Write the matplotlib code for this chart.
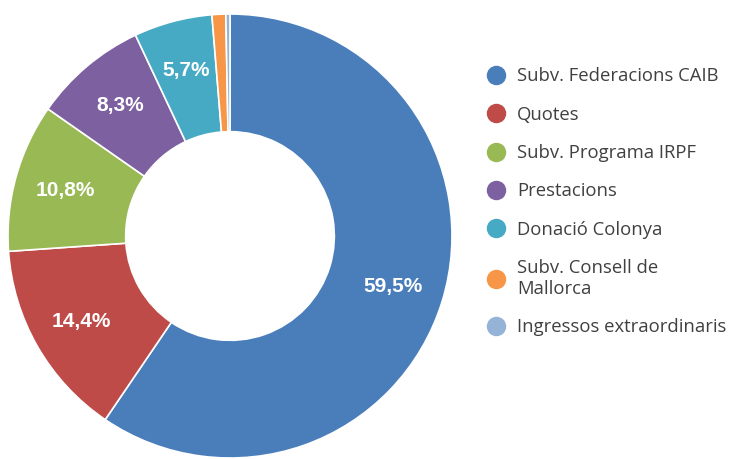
import matplotlib
matplotlib.use("Agg")
import matplotlib.pyplot as plt
from matplotlib.lines import Line2D

categories = ["Subv. Federacions CAIB", "Quotes", "Subv. Programa IRPF", "Prestacions",
              "Donació Colonya", "Subv. Consell de\nMallorca", "Ingressos extraordinaris"]
values = [59.5, 14.4, 10.8, 8.3, 5.7, 1.0, 0.3]
colors = ["#4A7EBB", "#BE4B48", "#98B954", "#7D60A0", "#46AAC5", "#F79646", "#95B3D7"]

W, H = 730, 459
fig = plt.figure(figsize=(W/100, H/100), dpi=100)
cx, cy, r = 230, 236, 222
ax = fig.add_axes([(cx - r)/W, (H - cy - r)/H, 2*r/W, 2*r/H])

def fmt(p):
    return (f"{p:.1f}%".replace(".", ",")) if p >= 5 else ""

wedges, texts, autotexts = ax.pie(values, colors=colors, startangle=90, counterclock=False,
                                  radius=1, autopct=fmt, pctdistance=0.77,
                                  wedgeprops=dict(width=0.53, edgecolor="white", linewidth=1.2),
                                  textprops=dict(color="white", fontsize=15, fontweight="bold",
                                                 family="Liberation Sans"))
ax.set_xlim(-1, 1); ax.set_ylim(-1, 1)
ax.set_aspect("equal")
ax.axis("off")

handles = [Line2D([], [], marker="o", linestyle="", markersize=13, markerfacecolor=c,
                  markeredgecolor=c) for c in colors]
leg = fig.legend(handles, categories, loc="upper left", bbox_to_anchor=(478/W, 1 - 60/H),
                 frameon=False, prop=dict(family="Open Sans", size=13.3), labelspacing=1.1,
                 handletextpad=0.5, handlelength=1.2, borderaxespad=0)
for t in leg.get_texts():
    t.set_color("#404040")

fig.savefig("out.png", dpi=100)
